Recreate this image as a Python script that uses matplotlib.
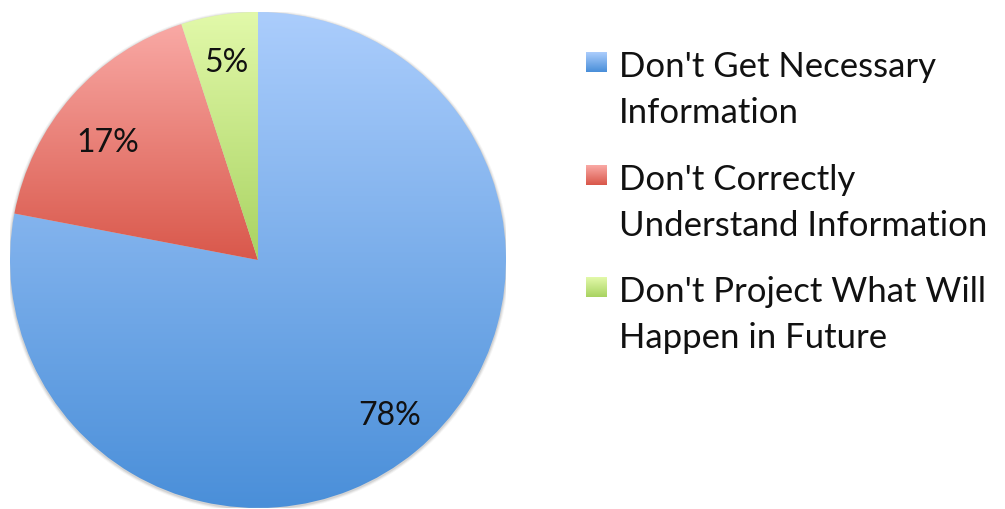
import matplotlib
matplotlib.use("Agg")
import matplotlib.pyplot as plt
import numpy as np
from matplotlib.colors import to_rgb
from matplotlib.patches import Rectangle, Circle

plt.rcParams['font.family'] = ['Lato', 'DejaVu Sans']

labels = ["Don't Get Necessary\nInformation",
          "Don't Correctly\nUnderstand Information",
          "Don't Project What Will\nHappen in Future"]
values = [78, 17, 5]
top_colors = ['#abcdfc', '#f9a9a5', '#e2f9aa']
bottom_colors = ['#4a8fd9', '#d9584b', '#a9d362']

W, H = 1005, 510
fig = plt.figure(figsize=(W / 100, H / 100), dpi=100)

# pie axes: centre (258, 261) px, radius 248 px
cx, cy, r = 258, 261, 248
ax = fig.add_axes([(cx - r) / W, (H - cy - r) / H, 2 * r / W, 2 * r / H])
ax.set_aspect('equal')
ax.axis('off')

# soft shadow
for k, a in zip([1.012, 1.008, 1.004], [0.04, 0.06, 0.08]):
    ax.add_patch(Circle((0, -0.004), k, color='black', alpha=a, lw=0, zorder=0))

wedges, texts, autotexts = ax.pie(values, startangle=90, counterclock=False,
                                  radius=1, autopct='%d%%', pctdistance=0.81,
                                  textprops=dict(fontsize=23, color='#111111'))

for w, c1, c2 in zip(wedges, top_colors, bottom_colors):
    ext = w.get_path().get_extents()
    t = np.linspace(0, 1, 256)[:, None]
    g = (1 - t) * np.array(to_rgb(c1)) + t * np.array(to_rgb(c2))
    w.set_facecolor('none')
    w.set_edgecolor('none')
    im = ax.imshow(g[:, None, :], extent=[ext.x0, ext.x1, ext.y0, ext.y1],
                   origin='upper', aspect='auto', zorder=1, interpolation='bilinear')
    im.set_clip_path(w)

# small nudges of the percentage labels (in axes units)
nudges = [(0.015, 0.0), (0.0, -0.06), (0.0, 0.0)]
for t, (dx, dy) in zip(autotexts, nudges):
    x, y = t.get_position()
    t.set_position((x + dx, y + dy))
    t.set_zorder(5)
ax.set_xlim(-1, 1)
ax.set_ylim(-1, 1)

# legend drawn by hand
first_baselines = [77, 190, 302]
line_step = 46
for lab, c1, c2, yb in zip(labels, top_colors, bottom_colors, first_baselines):
    n = 40
    tt = np.linspace(0, 1, n)
    for i in range(n):
        col = (1 - tt[i]) * np.array(to_rgb(c1)) + tt[i] * np.array(to_rgb(c2))
        y0 = yb - 24 + 20 * i / n
        fig.patches.append(Rectangle((586 / W, (H - y0 - 20 / n) / H), 21 / W,
                                     (20 / n + 0.3) / H, transform=fig.transFigure,
                                     color=tuple(col), lw=0))
    for j, line in enumerate(lab.split('\n')):
        fig.text(619 / W, (H - yb - j * line_step) / H, line, fontsize=25,
                 color='#111111', va='baseline', ha='left')

fig.savefig('out.png', dpi=100, facecolor='white')
